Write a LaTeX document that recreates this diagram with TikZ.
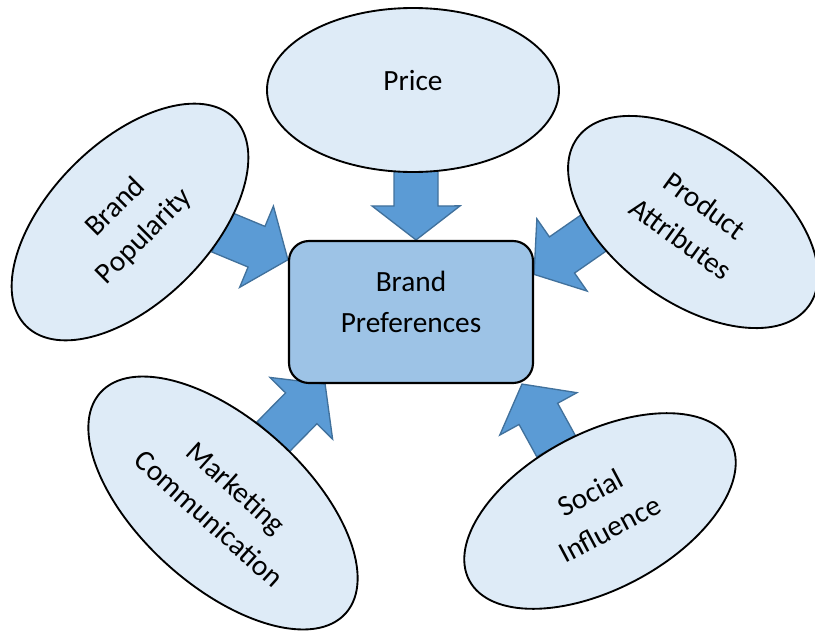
\documentclass[tikz,border=0pt]{standalone}
\usepackage{fontspec}
\setmainfont{Carlito}
\usetikzlibrary{shapes.geometric,calc,backgrounds}
\definecolor{bpPale}{HTML}{DEEBF7}
\definecolor{bpCore}{HTML}{9DC3E6}
\definecolor{bpBlue}{HTML}{5B9BD5}
\definecolor{bpEdge}{HTML}{41719C}
\tikzset{
  bpText/.style={font=\fontsize{22}{30.75}\selectfont,text=black},
  bpFactor/.style={ellipse,draw=black,fill=bpPale,line width=1.4pt,
    inner sep=0pt,align=center,bpText},
  bpCentre/.style={rectangle,rounded corners=15pt,draw=black,fill=bpCore,
    line width=1.6pt,minimum width=183pt,minimum height=106.5pt,
    align=center,text depth=15pt,bpText},
  bpArrow/.style={draw=bpEdge,fill=bpBlue,line width=1pt,line join=miter}
}
% block arrow from #1 to #2: shaft 33pt wide, head 66pt wide and 25.5pt long
\newcommand{\bpBlockArrow}[2]{%
  \path[bpArrow] let \p1=(#1), \p2=(#2), \n1={atan2(\y2-\y1,\x2-\x1)},
      \p3=($(\p2)+(\n1:-25.5pt)$) in
    ($(\p1)+(\n1+90:16.5pt)$) -- ($(\p3)+(\n1+90:16.5pt)$)
    -- ($(\p3)+(\n1+90:33pt)$) -- (\p2)
    -- ($(\p3)+(\n1-90:33pt)$) -- ($(\p3)+(\n1-90:16.5pt)$)
    -- ($(\p1)+(\n1-90:16.5pt)$) -- cycle;}

\begin{document}
\begin{tikzpicture}[x=0.75pt,y=-0.75pt]
\path[use as bounding box] (0,0) rectangle (815,632);
\node[bpCentre] (box) at (411,312) {Brand\\Preferences};
\node[bpFactor,minimum width=219pt,minimum height=123pt,text depth=15pt]
  (price) at (413,90) {Price};
\node[bpFactor,minimum width=220.5pt,minimum height=120pt,rotate=45]
  (pop) at (130,222) {Brand\\Popularity};
\node[bpFactor,minimum width=214.5pt,minimum height=120pt,rotate=-36]
  (prod) at (693,222) {Product\\Attributes};
\node[bpFactor,minimum width=247.5pt,minimum height=124.5pt,rotate=-42]
  (mark) at (223,503) {Marketing\\Communication};
\node[bpFactor,minimum width=222pt,minimum height=117pt,rotate=28]
  (soc) at (600,511) {Social\\Influence};
% arrow tails sit just inside the ellipses
\coordinate (priceTail) at (416,165);
\coordinate (popTail) at (220.4,231.7);
\coordinate (prodTail) at (597,230.6);
\coordinate (markTail) at (272.8,437.2);
\coordinate (socTail) at (556,446);
\begin{scope}[on background layer]
\foreach \from/\to in {priceTail/box.86,popTail/box.157,prodTail/box.17,
    markTail/box.220,socTail/box.327}
  \bpBlockArrow{\from}{\to};
\end{scope}
\end{tikzpicture}
\end{document}
